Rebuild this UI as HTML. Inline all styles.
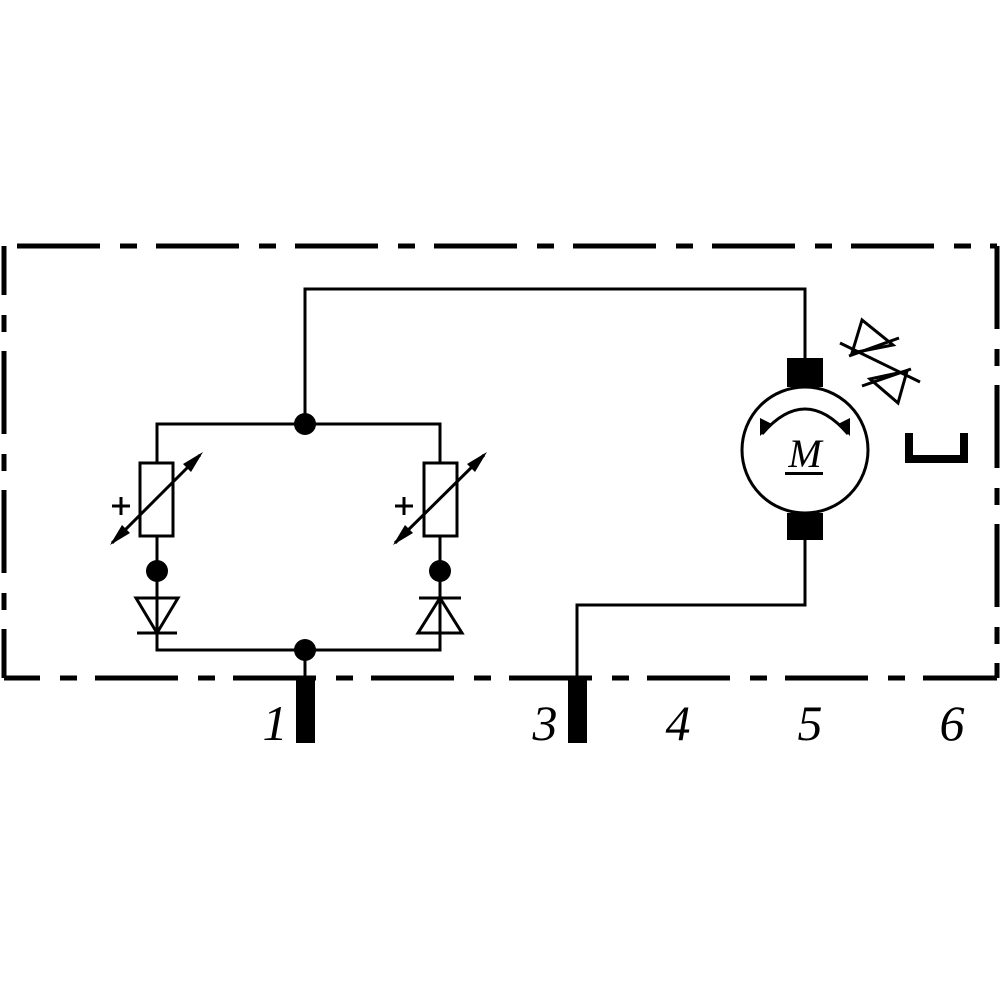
<!DOCTYPE html>
<html><head><meta charset="utf-8"><style>html,body{margin:0;padding:0;background:#fff}svg{display:block}</style></head>
<body>
<svg width="1000" height="1000" viewBox="0 0 1000 1000" xmlns="http://www.w3.org/2000/svg">
<g fill="none" stroke="#000" stroke-width="5">
<path d="M4 246 H997" stroke-dasharray="83 20 17 19" stroke-dashoffset="-13"/>
<path d="M4 246 V678" stroke-dasharray="83 20 17 19" stroke-dashoffset="34"/>
<path d="M4 678 H997" stroke-dasharray="83 20 17 18" stroke-dashoffset="47"/>
<path d="M997 246 V678" stroke-dasharray="83 20 17 19" stroke-dashoffset="0"/>
</g>
<g fill="none" stroke="#000" stroke-width="3">
<path d="M305 424 V289 H805 V358"/>
<path d="M157 463 V424 H440 V463"/>
<path d="M157 536 V650 H440 V536"/>
<path d="M305 650 V678"/>
<path d="M805 540 V605 H577 V678"/>
<rect x="140" y="463" width="33" height="73"/>
<rect x="424" y="463" width="33" height="73"/>
<path d="M136 598 H178 L157 633 Z"/>
<path d="M137 633 H177"/>
<path d="M418 633 H462 L440 598 Z"/>
<path d="M419 598 H461"/>
<path d="M112 506 H130 M121 497 V515"/>
<path d="M395 506 H413 M404 497 V515"/>
<path d="M112 543 L200 455"/>
<path d="M395 543 L484 455"/>
<circle cx="805" cy="450" r="63"/>
<path d="M762 434 Q805 384 848 434"/>
<path d="M840 343 L920 382"/>
<path d="M862 320 L852 353 L893 345 Z"/>
<path d="M849 356 L899 338"/>
<path d="M898 403 L870 379 L907 371 Z"/>
<path d="M862 386 L911 369"/>
</g>
<g fill="#000">
<circle cx="305" cy="424" r="11"/>
<circle cx="305" cy="650" r="11"/>
<circle cx="157" cy="571" r="11"/>
<circle cx="440" cy="571" r="11"/>
<polygon points="203,452 183,464 191,472"/>
<polygon points="110,545 130,533 122,525"/>
<polygon points="487,452 467,464 475,472"/>
<polygon points="393,545 413,533 405,525"/>
<polygon points="760,436 760,418 772,424"/>
<polygon points="850,436 850,418 838,424"/>
<rect x="787" y="358" width="36" height="29"/>
<rect x="787" y="513" width="36" height="27"/>
<rect x="296" y="676" width="19" height="67"/>
<rect x="568" y="676" width="19" height="67"/>
<path d="M905 433 H913 V455 H960 V433 H968 V463 H905 Z"/>
</g>
<text x="805" y="467" font-family="Liberation Serif, serif" font-style="italic" font-size="40" text-anchor="middle">M</text>
<rect x="785" y="472" width="38" height="3" fill="#000"/>
<g font-family="Liberation Serif, serif" font-style="italic" font-size="50" fill="#000" text-anchor="middle">
<text x="275" y="740">1</text>
<text x="545" y="740">3</text>
<text x="678" y="740">4</text>
<text x="810" y="740">5</text>
<text x="952" y="740">6</text>
</g>
</svg>
</body></html>
